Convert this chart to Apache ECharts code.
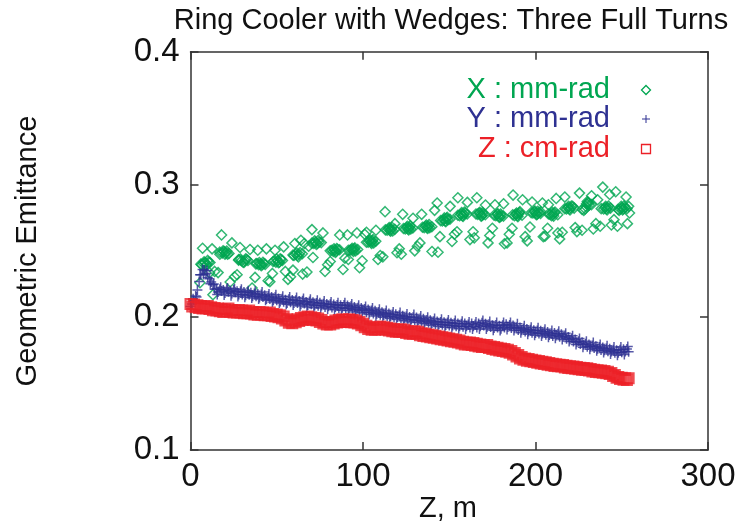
<!DOCTYPE html>
<html><head><meta charset="utf-8">
<script src="https://cdn.jsdelivr.net/npm/echarts@6/dist/echarts.min.js"></script>
<style>html,body{margin:0;padding:0;background:#fff}#c{width:751px;height:525px}</style>
</head><body><div id="c"></div>
<script>
const titleText = 'Ring Cooler with Wedges: Three Full Turns';
const xAxisName = 'Z, m';
const yAxisName = 'Geometric Emittance';
const seriesNames = ['X : mm-rad', 'Y : mm-rad', 'Z : cm-rad'];
const xTicks = [0, 100, 200, 300];
const yTicks = [0.1, 0.2, 0.3, 0.4];

// X emittance (green diamonds) [Z (m), emittance]
const xEmit = [
[5.5,0.226],[6.5,0.2395],[7,0.252],[7.5,0.2405],[8.5,0.241],[9.5,0.240],[10.5,0.2415],[11,0.2335],[12.5,0.2515],[13,0.217],[14,0.2345],
[16,0.2336],[17,0.2475],[18,0.262],[18.5,0.2485],[19.5,0.2495],[20.5,0.2485],[21.5,0.2475],[23,0.2265],[24,0.256],[25.5,0.2305],
[27,0.232],[28,0.2435],[28.7,0.2525],[29.5,0.2425],[30.5,0.2415],[31.5,0.2425],[32.5,0.2435],[34.5,0.251],[35.7,0.222],[37.4,0.230],
[38.5,0.2405],[39,0.2505],[39.5,0.2395],[40.5,0.240],[41.5,0.2395],[42.5,0.2405],[44,0.2515],[45,0.2275],[46,0.2268],[47.5,0.233],
[48.5,0.2425],[49,0.2505],[49.5,0.2415],[50.5,0.2425],[51.5,0.2415],[52.5,0.2435],[54,0.253],[55,0.2345],[56.5,0.2285],[58,0.2305],
[59.4,0.2355],[60,0.2465],[60.5,0.2555],[61,0.2475],[62,0.2465],[63,0.2475],[64,0.258],[65,0.2325],[66,0.2555],[67.5,0.234],
[68.5,0.2535],[70.4,0.266],[71,0.245],[71.5,0.2555],[72.5,0.2565],[73.5,0.2555],[74.5,0.2565],[76.8,0.2635],[78,0.2344],[79.5,0.2395],
[81,0.242],[82,0.2505],[82.8,0.2495],[83.6,0.2505],[84.4,0.2495],[85.2,0.251],[86.5,0.262],[88.4,0.236],[89.5,0.2445],[91,0.262],
[91.5,0.2435],[92.5,0.2505],[93.3,0.251],[94.1,0.2505],[94.9,0.2515],[95.7,0.250],[96.5,0.2635],[98,0.2373],[99.5,0.2425],[101,0.2625],
[102,0.264],[103,0.2565],[103.8,0.2575],[104.6,0.2565],[105.4,0.2575],[106.2,0.256],[107.5,0.2655],[108.7,0.2435],[110,0.2465],[111.5,0.2455],
[112.8,0.2795],[114,0.2655],[114.8,0.2665],[115.6,0.2655],[116.4,0.2665],[117.2,0.265],[118.5,0.2705],[119.7,0.2486],[121,0.2515],[122.2,0.2475],
[123,0.2775],[124.5,0.2665],[125.3,0.2675],[126.1,0.2665],[126.9,0.2675],[127.7,0.2665],[129,0.2745],[130,0.250],[131.5,0.2535],[133,0.256],
[134,0.2775],[135.5,0.2675],[136.3,0.2685],[137.1,0.2675],[137.9,0.2685],[138.7,0.2675],[140,0.2495],[141.5,0.2805],[143,0.286],[143.5,0.249],
[144.6,0.2607],[146,0.2725],[146.8,0.2735],[147.6,0.2725],[148.4,0.2745],[149.2,0.2735],[150.5,0.2835],[151.6,0.257],[153,0.2625],[154.5,0.2644],
[155,0.290],[156,0.2765],[156.8,0.2775],[157.6,0.2765],[158.4,0.2775],[159.2,0.2785],[160.5,0.2865],[162,0.2585],[163.8,0.2644],[164.5,0.2598],
[166,0.290],[166.5,0.2775],[167.3,0.2785],[168.1,0.2775],[168.9,0.2765],[169.7,0.2775],[171,0.2845],[172.5,0.256],[173.5,0.2615],[175,0.267],
[176.5,0.2847],[177,0.2765],[177.8,0.2775],[178.6,0.2765],[179.4,0.2755],[180.2,0.2765],[181.5,0.2855],[182,0.2553],[183.5,0.256],[184.8,0.2625],
[186.4,0.267],[187,0.292],[187.8,0.2765],[188.6,0.2775],[189.4,0.2765],[190.2,0.2775],[191,0.2795],[192.5,0.2885],[194,0.2607],[195.2,0.2575],
[196.8,0.268],[198,0.2868],[198.5,0.2785],[199.3,0.2795],[200.1,0.2785],[200.9,0.2775],[201.7,0.2785],[203,0.2795],[204,0.286],[204.5,0.2607],
[205.5,0.261],[207,0.267],[207.5,0.2847],[208.5,0.2775],[209.3,0.2765],[210.1,0.2775],[210.9,0.2785],[212,0.2895],[213,0.2635],[214,0.259],
[215.5,0.264],[217,0.2905],[218,0.2815],[218.8,0.2825],[219.6,0.2815],[220.4,0.2825],[221.5,0.2835],[223,0.2675],[224,0.2645],[225.5,0.2935],
[227,0.2655],[228,0.2805],[228.8,0.2815],[229.6,0.2855],[230.4,0.2865],[231.2,0.2845],[232.5,0.2915],[233.5,0.2665],[235,0.2705],[236,0.2885],
[237.5,0.2685],[239,0.298],[239.5,0.2815],[240.3,0.2825],[241.1,0.2815],[241.9,0.2825],[243,0.2925],[244,0.2695],[245.5,0.2735],[246.5,0.2945],
[247.5,0.2685],[248.5,0.2805],[249.3,0.2815],[250.1,0.2825],[250.9,0.2815],[251.7,0.2825],[252.5,0.2905],[253.3,0.2705],[254,0.2835],[254.5,0.2785]
];
// extra X samples in the dense core of each cell
const xEmitCore = [
[7.9,0.2418],[9,0.2392],[10,0.2428],[18.9,0.2500],[20,0.2475],[21,0.2498],[29,0.2438],[31,0.2412],[32,0.2440],
[39.9,0.2412],[41,0.2388],[42,0.2414],[49.9,0.2438],[51,0.2410],[52,0.2440],[61.5,0.2485],[62.5,0.2455],[63.5,0.2488],
[72,0.2575],[73,0.2548],[74,0.2578],[83.2,0.2515],[84,0.2488],[84.8,0.2518],[93.7,0.2520],[94.5,0.2495],[95.3,0.2522],
[104.2,0.2582],[105,0.2555],[105.8,0.2585],[115.2,0.2675],[116,0.2648],[116.8,0.2678],[125.7,0.2685],[126.5,0.2658],[127.3,0.2688],
[136.7,0.2695],[137.5,0.2668],[138.3,0.2698],[147.2,0.2748],[148,0.2720],[148.8,0.2752],[157.2,0.2788],[158,0.2760],[158.8,0.2792],
[167.7,0.2790],[168.5,0.2762],[169.3,0.2788],[178.2,0.2780],[179,0.2752],[179.8,0.2778],[189,0.2785],[189.8,0.2758],[190.6,0.2788],
[199.7,0.2800],[200.5,0.2772],[201.3,0.2798],[209.7,0.2790],[210.5,0.2762],[211.3,0.2792],[219.2,0.2835],[220,0.2808],[220.8,0.2838],
[229.2,0.2835],[230,0.2872],[230.8,0.2858],[240.7,0.2835],[241.5,0.2808],[242.3,0.2838],[249.7,0.2835],[250.5,0.2808],[251.3,0.2838]
];
const xEmitCoreEdge = [
[6.0,0.2400],[11.3,0.2412],[17.0,0.2490],[22.3,0.2480],[27.9,0.2430],[33.3,0.2428],[37.9,0.2402],[43.3,0.2398],
[47.9,0.2420],[53.3,0.2428],[59.4,0.2468],[64.8,0.2478],[70.4,0.2558],[75.8,0.2562],[81.0,0.2500],[86.4,0.2508],
[91.5,0.2505],[96.9,0.2510],[102.0,0.2565],[107.4,0.2572],[113.0,0.2658],[118.4,0.2662],[123.5,0.2668],[128.9,0.2672],
[134.5,0.2678],[139.9,0.2682],[145.0,0.2728],[150.4,0.2738],[155.0,0.2768],[160.4,0.2778],[165.5,0.2778],[170.9,0.2772],
[176.0,0.2768],[181.4,0.2762],[186.8,0.2772],[192.2,0.2768],[197.5,0.2788],[202.9,0.2782],[207.5,0.2778],[212.9,0.2772],
[217.0,0.2818],[222.4,0.2822],[227.0,0.2812],[232.4,0.2848],[238.1,0.2818],[243.5,0.2822],[247.9,0.2812],[253.0,0.2818]
];

// Y emittance (blue plus) [Z (m), emittance]
const yEmit = [
[0,0.2080],[2,0.2125],[4,0.2205],[6,0.2320],[8,0.2355],[10,0.2300],[12,0.2265],[14,0.2210],[16,0.2190],[18,0.2198],
[20,0.2183],[22,0.2192],[24,0.2178],[26,0.2188],[28,0.2172],[30,0.2172],[32,0.2166],[34,0.2170],[36,0.2158],[38,0.2158],
[40,0.2148],[42,0.2153],[44,0.2138],[46,0.2137],[48,0.2128],[50,0.2127],[52,0.2118],[54,0.2117],[56,0.2108],[58,0.2113],
[60,0.2108],[62,0.2107],[64,0.2098],[66,0.2103],[68,0.2093],[70,0.2098],[72,0.2088],[74,0.2087],[76,0.2088],[78,0.2078],
[80,0.2082],[82,0.2073],[84,0.2077],[86,0.2068],[88,0.2072],[90,0.2068],[92,0.2067],[94,0.2058],[96,0.2057],[98,0.2048],
[100,0.2052],[102,0.2038],[104,0.2037],[106,0.2028],[108,0.2027],[110,0.2018],[112,0.2017],[114,0.2008],[116,0.2007],[118,0.1998],
[120,0.2002],[122,0.1993],[124,0.1992],[126,0.1983],[128,0.1982],[130,0.1978],[132,0.1977],[134,0.1968],[136,0.1967],[138,0.1958],
[140,0.1957],[142,0.1948],[144,0.1947],[146,0.1943],[148,0.1942],[150,0.1938],[152,0.1937],[154,0.1933],[156,0.1932],[158,0.1928],
[160,0.1932],[162,0.1923],[164,0.1932],[166,0.1923],[168,0.1932],[170,0.1937],[172,0.1928],[174,0.1927],[176,0.1918],[178,0.1922],
[180,0.1913],[182,0.1922],[184,0.1927],[186,0.1918],[188,0.1917],[190,0.1903],[192,0.1902],[194,0.1893],[196,0.1892],[198,0.1883],
[200,0.1882],[202,0.1878],[204,0.1877],[206,0.1868],[208,0.1867],[210,0.1858],[212,0.1862],[214,0.1853],[216,0.1852],[218,0.1838],
[220,0.1832],[222,0.1818],[224,0.1812],[226,0.1798],[228,0.1792],[230,0.1778],[232,0.1777],[234,0.1768],[236,0.1762],[238,0.1753],
[240,0.1752],[242,0.1743],[244,0.1742],[246,0.1733],[248,0.1732],[250,0.1737],[252,0.1742],[254,0.1740]
];
const yEmitMid = [
[1,0.2100],[3,0.2160],[5,0.2270],[7,0.2360],[9,0.2330],[11,0.2290],[13,0.2245],[15,0.2215],[17,0.2210],[19,0.2205],
[21,0.2210],[23,0.2200],[25,0.2205],[27,0.2195],[29,0.2195],[31,0.2190],[33,0.2188],[35,0.2185],[37,0.2178],[39,0.2175],
[41,0.2172],[43,0.2165],[45,0.2160],[47,0.2152],[49,0.2150],[51,0.2142],[53,0.2140],[55,0.2132],[57,0.2135],[59,0.2130],
[61,0.2128],[63,0.2122],[65,0.2125],[67,0.2115],[69,0.2118],[71,0.2112],[73,0.2108],[75,0.2110],[77,0.2102],[79,0.2100],
[81,0.2098],[83,0.2095],[85,0.2092],[87,0.2090],[89,0.2092],[91,0.2088],[93,0.2082],[95,0.2078],[97,0.2072],[99,0.2070],
[101,0.2062],[103,0.2058],[105,0.2050],[107,0.2048],[109,0.2040],[111,0.2038],[113,0.2030],[115,0.2028],[117,0.2020],[119,0.2022],
[121,0.2015],[123,0.2012],[125,0.2005],[127,0.2002],[129,0.2000],[131,0.1998],[133,0.1990],[135,0.1988],[137,0.1980],[139,0.1978],
[141,0.1970],[143,0.1968],[145,0.1965],[147,0.1962],[149,0.1960],[151,0.1958],[153,0.1955],[155,0.1952],[157,0.1950],[159,0.1952],
[161,0.1945],[163,0.1952],[165,0.1945],[167,0.1952],[169,0.1958],[171,0.1950],[173,0.1948],[175,0.1940],[177,0.1942],[179,0.1935],
[181,0.1940],[183,0.1948],[185,0.1942],[187,0.1938],[189,0.1925],[191,0.1922],[193,0.1915],[195,0.1912],[197,0.1905],[199,0.1902],
[201,0.1900],[203,0.1898],[205,0.1890],[207,0.1888],[209,0.1880],[211,0.1882],[213,0.1875],[215,0.1872],[217,0.1862],[219,0.1852],
[221,0.1842],[223,0.1832],[225,0.1820],[227,0.1812],[229,0.1800],[231,0.1795],[233,0.1788],[235,0.1782],[237,0.1775],[239,0.1772],
[241,0.1765],[243,0.1762],[245,0.1755],[247,0.1752],[249,0.1755],[251,0.1758],[253,0.1760]
];
// Y spikes above and below the band
const yEmitHigh = [
[1.5,0.2140],[5.5,0.2320],[9.5,0.2350],[13.5,0.2250],[17.5,0.2225],[21.5,0.2220],[25.5,0.2215],[29.5,0.2210],
[33.5,0.2200],[37.5,0.2195],[41.5,0.2190],[45.5,0.2175],[49.5,0.2170],[53.5,0.2158],[57.5,0.2152],[61.5,0.2148],
[65.5,0.2142],[69.5,0.2135],[73.5,0.2128],[77.5,0.2122],[81.5,0.2115],[85.5,0.2110],[89.5,0.2110],[93.5,0.2100],
[97.5,0.2090],[101.5,0.2080],[105.5,0.2070],[109.5,0.2060],[113.5,0.2050],[117.5,0.2040],[121.5,0.2035],[125.5,0.2025],
[129.5,0.2020],[133.5,0.2010],[137.5,0.2000],[141.5,0.1990],[145.5,0.1985],[149.5,0.1980],[153.5,0.1975],[157.5,0.1970],
[161.5,0.1965],[165.5,0.1965],[169.5,0.1975],[173.5,0.1968],[177.5,0.1960],[181.5,0.1960],[185.5,0.1960],[189.5,0.1950],
[193.5,0.1935],[197.5,0.1925],[201.5,0.1920],[205.5,0.1910],[209.5,0.1900],[213.5,0.1895],[217.5,0.1880],[221.5,0.1860],
[225.5,0.1840],[229.5,0.1820],[233.5,0.1810],[237.5,0.1795],[241.5,0.1785],[245.5,0.1775],[249.5,0.1775],[253.5,0.1780]
];
const yEmitLow = [
[3.5,0.2152],[7.5,0.2322],[11.5,0.2252],[15.5,0.2172],[19.5,0.2167],[23.5,0.2162],[27.5,0.2157],[31.5,0.2150],
[35.5,0.2144],[39.5,0.2137],[43.5,0.2127],[47.5,0.2114],[51.5,0.2107],[55.5,0.2097],[59.5,0.2092],[63.5,0.2084],
[67.5,0.2077],[71.5,0.2072],[75.5,0.2070],[79.5,0.2062],[83.5,0.2057],[87.5,0.2052],[91.5,0.2050],[95.5,0.2040],
[99.5,0.2032],[103.5,0.2020],[107.5,0.2010],[111.5,0.2000],[115.5,0.1990],[119.5,0.1982],[123.5,0.1974],[127.5,0.1964],
[131.5,0.1960],[135.5,0.1950],[139.5,0.1940],[143.5,0.1930],[147.5,0.1924],[151.5,0.1920],[155.5,0.1914],[159.5,0.1912],
[163.5,0.1912],[167.5,0.1912],[171.5,0.1912],[175.5,0.1902],[179.5,0.1900],[183.5,0.1907],[187.5,0.1900],[191.5,0.1884],
[195.5,0.1872],[199.5,0.1864],[203.5,0.1859],[207.5,0.1849],[211.5,0.1842],[215.5,0.1832],[219.5,0.1817],[223.5,0.1794],
[227.5,0.1774],[231.5,0.1759],[235.5,0.1747],[239.5,0.1734],[243.5,0.1724],[247.5,0.1714],[251.5,0.1720]
];

// Z emittance (red squares) [Z (m), emittance]
const zEmit = [
[0,0.2100],[2,0.2095],[4,0.2090],[6,0.2085],[8,0.2080],[10,0.2085],[12,0.2075],[14,0.2070],[16,0.2065],[18,0.2060],
[20,0.2058],[22,0.2065],[24,0.2055],[26,0.2050],[28,0.2055],[30,0.2050],[32,0.2045],[34,0.2050],[36,0.2040],[38,0.2035],
[40,0.2040],[42,0.2035],[44,0.2030],[46,0.2035],[48,0.2025],[50,0.2020],[52,0.2015],[54,0.2005],[56,0.1985],[58,0.1970],
[60,0.1975],[62,0.1985],[64,0.1995],[66,0.2000],[68,0.2005],[70,0.2000],[72,0.1995],[74,0.1990],[76,0.1980],[78,0.1965],
[80,0.1960],[82,0.1965],[84,0.1975],[86,0.1980],[88,0.1985],[90,0.1980],[92,0.1985],[94,0.1980],[96,0.1975],[98,0.1965],
[100,0.1950],[102,0.1935],[104,0.1925],[106,0.1920],[108,0.1925],[110,0.1930],[112,0.1925],[114,0.1920],[116,0.1915],[118,0.1910],
[120,0.1905],[122,0.1910],[124,0.1905],[126,0.1895],[128,0.1890],[130,0.1895],[132,0.1890],[134,0.1880],[136,0.1875],[138,0.1870],
[140,0.1865],[142,0.1860],[144,0.1855],[146,0.1850],[148,0.1845],[150,0.1840],[152,0.1835],[154,0.1830],[156,0.1825],[158,0.1815],
[160,0.1810],[162,0.1810],[164,0.1805],[166,0.1800],[168,0.1795],[170,0.1790],[172,0.1790],[174,0.1780],[176,0.1775],[178,0.1770],
[180,0.1765],[182,0.1760],[184,0.1755],[186,0.1745],[188,0.1730],[190,0.1715],[192,0.1700],[194,0.1690],[196,0.1685],[198,0.1680],
[200,0.1675],[202,0.1670],[204,0.1665],[206,0.1660],[208,0.1655],[210,0.1650],[212,0.1645],[214,0.1643],[216,0.1640],[218,0.1635],
[220,0.1630],[222,0.1628],[224,0.1625],[226,0.1620],[228,0.1618],[230,0.1615],[232,0.1610],[234,0.1605],[236,0.1600],[238,0.1598],
[240,0.1595],[242,0.1590],[244,0.1580],[246,0.1565],[248,0.1550],[250,0.1545],[252,0.1540],[254,0.1540]
];
const zEmitMid = [
[1,0.2080],[3,0.2075],[5,0.2070],[7,0.2065],[9,0.2068],[11,0.2062],[13,0.2052],[15,0.2050],[17,0.2045],[19,0.2040],
[21,0.2045],[23,0.2042],[25,0.2035],[27,0.2035],[29,0.2035],[31,0.2030],[33,0.2030],[35,0.2028],[37,0.2020],[39,0.2018],
[41,0.2020],[43,0.2015],[45,0.2015],[47,0.2010],[49,0.2005],[51,0.2000],[53,0.1990],[55,0.1975],[57,0.1958],[59,0.1955],
[61,0.1962],[63,0.1972],[65,0.1980],[67,0.1985],[69,0.1985],[71,0.1980],[73,0.1975],[75,0.1965],[77,0.1952],[79,0.1945],
[81,0.1945],[83,0.1952],[85,0.1960],[87,0.1965],[89,0.1965],[91,0.1965],[93,0.1962],[95,0.1960],[97,0.1952],[99,0.1940],
[101,0.1925],[103,0.1912],[105,0.1905],[107,0.1905],[109,0.1910],[111,0.1910],[113,0.1905],[115,0.1900],[117,0.1895],[119,0.1890],
[121,0.1890],[123,0.1890],[125,0.1882],[127,0.1875],[129,0.1875],[131,0.1875],[133,0.1865],[135,0.1858],[137,0.1855],[139,0.1850],
[141,0.1845],[143,0.1840],[145,0.1835],[147,0.1830],[149,0.1825],[151,0.1820],[153,0.1815],[155,0.1810],[157,0.1802],[159,0.1795],
[161,0.1795],[163,0.1790],[165,0.1785],[167,0.1780],[169,0.1775],[171,0.1775],[173,0.1768],[175,0.1760],[177,0.1755],[179,0.1750],
[181,0.1745],[183,0.1740],[185,0.1732],[187,0.1720],[189,0.1705],[191,0.1690],[193,0.1680],[195,0.1672],[197,0.1668],[199,0.1662],
[201,0.1658],[203,0.1652],[205,0.1648],[207,0.1642],[209,0.1638],[211,0.1632],[213,0.1630],[215,0.1628],[217,0.1622],[219,0.1618],
[221,0.1615],[223,0.1612],[225,0.1608],[227,0.1605],[229,0.1602],[231,0.1598],[233,0.1592],[235,0.1588],[237,0.1585],[239,0.1582],
[241,0.1578],[243,0.1572],[245,0.1558],[247,0.1545],[249,0.1535],[251,0.1530],[253,0.1528]
];

const GREEN = '#00a651', BLUE = '#2e3192', RED = '#ec2027';
const FONT = 'Liberation Sans, Arial, Helvetica, sans-serif';
const FRAME = '#333';
const PLUS = 'path://M3.4,0H4.6V3.4H8V4.6H4.6V8H3.4V4.6H0V3.4H3.4Z';

const chart = echarts.init(document.getElementById('c'), null, {renderer: 'canvas'});

function axis(pos, kind, ticks, interval, showLabel) {
  return {
    type: 'value', position: pos, min: ticks[0], max: ticks[ticks.length - 1], interval: interval,
    axisLine: {show: true, onZero: false, lineStyle: {color: FRAME, width: 1.5}},
    axisTick: {show: true, inside: true, length: 8, lineStyle: {color: FRAME, width: 1.5}},
    splitLine: {show: false},
    axisLabel: {show: showLabel, color: '#111', fontSize: 33, fontFamily: FONT, margin: kind === 'x' ? 10 : 11,
      formatter: kind === 'y' ? (v => v.toFixed(1)) : (v => String(v))}
  };
}

const option = {
  animation: false,
  backgroundColor: '#fff',
  grid: {left: 190.5, top: 51.7, right: 43, bottom: 75},
  xAxis: [axis('bottom', 'x', xTicks, 100, true), axis('top', 'x', xTicks, 100, false)],
  yAxis: [axis('left', 'y', yTicks, 0.1, true), axis('right', 'y', yTicks, 0.1, false)],
  series: [
    {name: seriesNames[0], type: 'scatter', data: xEmit.concat(xEmitCore, xEmitCoreEdge), symbol: 'diamond', symbolSize: 10,
     itemStyle: {color: 'rgba(255,255,255,0)', borderColor: GREEN, borderWidth: 1.5}, z: 2},
    {name: seriesNames[1], type: 'scatter', data: yEmit.concat(yEmitMid, yEmitHigh, yEmitLow), symbol: PLUS, symbolSize: 10,
     itemStyle: {color: BLUE}, z: 3},
    {name: seriesNames[2], type: 'scatter', data: zEmit.concat(zEmitMid), symbol: 'rect', symbolSize: 10,
     itemStyle: {color: 'rgba(255,255,255,0)', borderColor: RED, borderWidth: 2}, z: 4}
  ],
  graphic: [
    {type: 'text', x: 451, y: 21, style: {text: titleText, font: '29px ' + FONT, fill: '#111', align: 'center', verticalAlign: 'middle'}},
    {type: 'text', x: 28, y: 251, rotation: Math.PI / 2, style: {text: yAxisName, font: '29px ' + FONT, fill: '#111', align: 'center', verticalAlign: 'middle'}},
    {type: 'text', x: 448, y: 509, style: {text: xAxisName, font: '29px ' + FONT, fill: '#111', align: 'center', verticalAlign: 'middle'}},
    {type: 'text', x: 610, y: 90, style: {text: seriesNames[0], font: '29px ' + FONT, fill: GREEN, align: 'right', verticalAlign: 'middle'}},
    {type: 'text', x: 610, y: 119, style: {text: seriesNames[1], font: '29px ' + FONT, fill: BLUE, align: 'right', verticalAlign: 'middle'}},
    {type: 'text', x: 610, y: 149, style: {text: seriesNames[2], font: '29px ' + FONT, fill: RED, align: 'right', verticalAlign: 'middle'}},
    {type: 'polygon', shape: {points: [[646, 85.5], [650.5, 90], [646, 94.5], [641.5, 90]]}, style: {fill: 'none', stroke: GREEN, lineWidth: 1.3}},
    {type: 'rect', shape: {x: 642, y: 118.5, width: 8, height: 1}, style: {fill: BLUE}},
    {type: 'rect', shape: {x: 645.5, y: 115, width: 1, height: 8}, style: {fill: BLUE}},
    {type: 'rect', shape: {x: 641.5, y: 144.5, width: 9, height: 9}, style: {fill: 'none', stroke: RED, lineWidth: 1.3}}
  ]
};
chart.setOption(option);
</script>
</body></html>
